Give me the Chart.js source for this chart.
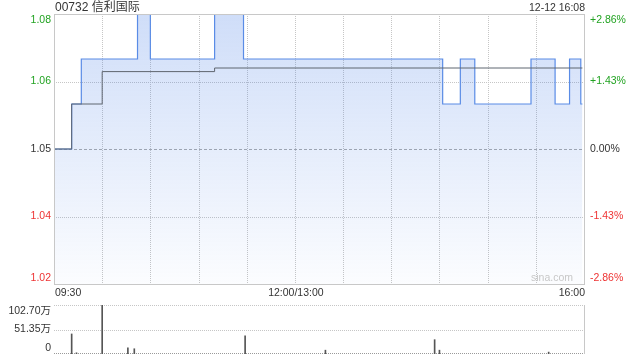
<!DOCTYPE html>
<html>
<head>
<meta charset="utf-8">
<script src="https://cdn.jsdelivr.net/npm/chart.js@4/dist/chart.umd.min.js"></script>
<style>
  html, body { margin: 0; padding: 0; background: #fff; }
  #wrap { position: relative; width: 640px; height: 360px; overflow: hidden; }
  #priceChart { position: absolute; left: 0; top: 0; }
  #volChart { position: absolute; left: 0; top: 296px; }
</style>
</head>
<body>
<div id="wrap">
  <canvas id="priceChart" width="640" height="300"></canvas>
  <canvas id="volChart" width="640" height="64"></canvas>
</div>
<script>
const stockTitle = '00732 信利国际';
const stampText = '12-12 16:08';
const prevClose = 1.05;

// minutes since 09:30 (lunch break removed), price holds from that minute on
const priceMinutes = [0, 11, 17, 52, 60, 100, 118, 242, 253, 262, 297, 312, 321, 328, 329];
const priceValues = [1.05, 1.06, 1.07, 1.08, 1.07, 1.08, 1.07, 1.06, 1.07, 1.06, 1.07, 1.06, 1.07, 1.06, 1.06];

const avgMinutes = [0, 11, 30, 100, 329];
const avgValues = [1.05, 1.06, 1.0672, 1.068, 1.068];

const volMinutes = [11, 14, 30, 46, 50, 119, 169, 237, 240, 308];
const volValues = [420000, 25000, 1027000, 130000, 110000, 380000, 80000, 300000, 80000, 40000];

const priceTicks = [1.02, 1.035, 1.05, 1.065, 1.08];
const priceTickLabels = ['1.02', '1.04', '1.05', '1.06', '1.08'];
const pctTickLabels = ['-2.86%', '-1.43%', '0.00%', '+1.43%', '+2.86%'];

const volTicks = [0, 513500, 1027000];
const volTickLabels = ['0', '51.35万', '102.70万'];

const timeTicks = [0, 150, 330];
const timeTickLabels = ['09:30', '12:00/13:00', '16:00'];
const gridMinutes = [30, 60, 90, 120, 150, 180, 210, 240, 270, 300];

const FONT = '"Liberation Sans", Arial, "Noto Sans CJK SC", sans-serif';
const UP = '#22a322';
const DOWN = '#ee3333';
const GRID = '#c6c6c6';

function hline(ctx, x1, x2, y) {
  ctx.beginPath();
  ctx.moveTo(x1, y);
  ctx.lineTo(x2, y);
  ctx.stroke();
}
function vline(ctx, x, y1, y2) {
  ctx.beginPath();
  ctx.moveTo(x, y1);
  ctx.lineTo(x, y2);
  ctx.stroke();
}

const priceDecor = {
  id: 'priceDecor',
  beforeDatasetsDraw(chart) {
    const { ctx, chartArea: a, scales: { x, y } } = chart;
    ctx.save();
    ctx.lineWidth = 1;
    ctx.strokeStyle = GRID;
    ctx.setLineDash([1, 1]);
    gridMinutes.forEach(m => {
      const px = Math.round(x.getPixelForValue(m)) + 0.5;
      vline(ctx, px, a.top, a.bottom);
    });
    priceTicks.forEach((v, i) => {
      if (i === 0 || i === priceTicks.length - 1 || v === prevClose) return;
      const py = Math.round(y.getPixelForValue(v)) + 0.5;
      hline(ctx, a.left, a.right, py);
    });
    // previous close line
    ctx.strokeStyle = '#aaaaaa';
    ctx.setLineDash([3, 2]);
    hline(ctx, a.left, a.right, Math.round(y.getPixelForValue(prevClose)) + 0.5);
    ctx.restore();
  },
  afterDraw(chart) {
    const { ctx, chartArea: a, scales: { x, y } } = chart;
    ctx.save();
    // frame
    ctx.strokeStyle = '#c8c8c8';
    ctx.lineWidth = 1;
    ctx.strokeRect(a.left + 0.5, a.top + 0.5, a.right - a.left, a.bottom - a.top);

    ctx.font = '10.5px ' + FONT;
    ctx.textBaseline = 'middle';
    priceTicks.forEach((v, i) => {
      let py = y.getPixelForValue(v);
      if (i === 0) py -= 6;
      if (i === priceTicks.length - 1) py += 6;
      ctx.fillStyle = v > prevClose ? UP : (v < prevClose ? DOWN : '#333');
      ctx.textAlign = 'right';
      ctx.fillText(priceTickLabels[i], a.left - 3, py);
      ctx.textAlign = 'left';
      ctx.fillText(pctTickLabels[i], a.right + 6, py);
    });

    ctx.fillStyle = '#333';
    timeTicks.forEach((m, i) => {
      const px = x.getPixelForValue(m);
      ctx.textAlign = i === 0 ? 'left' : (i === timeTicks.length - 1 ? 'right' : 'center');
      ctx.fillText(timeTickLabels[i], px + 1, a.bottom + 9.5);
    });

    ctx.textAlign = 'right';
    ctx.fillText(stampText, a.right + 1, 8);
    ctx.fillStyle = '#c8c8c8';
    ctx.fillText('sina.com', a.right - 11, a.bottom - 6);

    ctx.fillStyle = '#333';
    ctx.textAlign = 'left';
    ctx.font = '12px ' + FONT;
    ctx.fillText(stockTitle, a.left + 1, 8);
    ctx.restore();
  }
};

const volDecor = {
  id: 'volDecor',
  beforeDatasetsDraw(chart) {
    const { ctx, chartArea: a, scales: { y } } = chart;
    ctx.save();
    ctx.lineWidth = 1;
    ctx.setLineDash([1, 1]);
    volTicks.forEach((v, i) => {
      ctx.strokeStyle = i === 0 ? '#9a9a9a' : GRID;
      hline(ctx, a.left, a.right, Math.round(y.getPixelForValue(v)) - (i === 0 ? 0.5 : -0.5));
    });
    ctx.setLineDash([]);
    ctx.strokeStyle = '#c8c8c8';
    vline(ctx, a.right + 0.5, a.top, a.bottom);
    ctx.restore();
  },
  afterDraw(chart) {
    const { ctx, chartArea: a, scales: { y } } = chart;
    ctx.save();
    ctx.font = '10.5px ' + FONT;
    ctx.textBaseline = 'middle';
    ctx.textAlign = 'right';
    ctx.fillStyle = '#333';
    volTicks.forEach((v, i) => {
      let py = y.getPixelForValue(v);
      if (i === 0) py -= 6;
      if (i === volTicks.length - 1) py += 6;
      ctx.fillText(volTickLabels[i], a.left - 3, py);
    });
    ctx.restore();
  }
};

new Chart(document.getElementById('priceChart').getContext('2d'), {
  type: 'line',
  data: {
    datasets: [
      {
        label: 'avg',
        data: avgMinutes.map((m, i) => ({ x: m, y: avgValues[i] })),
        stepped: true,
        borderColor: '#5f6670',
        borderWidth: 1,
        pointRadius: 0,
        fill: false,
        order: 0
      },
      {
        label: 'price',
        data: priceMinutes.map((m, i) => ({ x: m, y: priceValues[i] })),
        stepped: true,
        borderColor: '#5a8ce6',
        borderWidth: 1.2,
        pointRadius: 0,
        fill: 'start',
        backgroundColor(c) {
          const a = c.chart.chartArea;
          if (!a) return 'rgba(70,125,230,0.15)';
          const g = c.chart.ctx.createLinearGradient(0, a.top, 0, a.bottom);
          g.addColorStop(0, 'rgba(70,125,230,0.26)');
          g.addColorStop(1, 'rgba(70,125,230,0.02)');
          return g;
        },
        order: 1
      }
    ]
  },
  options: {
    responsive: false,
    animation: false,
    layout: { padding: { left: 54, right: 56, top: 14, bottom: 16 } },
    plugins: { legend: { display: false }, tooltip: { enabled: false } },
    scales: {
      x: { type: 'linear', min: 0, max: 330, display: false },
      y: { min: priceTicks[0], max: priceTicks[priceTicks.length - 1], display: false }
    }
  },
  plugins: [priceDecor]
});

new Chart(document.getElementById('volChart').getContext('2d'), {
  type: 'bar',
  data: {
    datasets: [{
      label: 'vol',
      data: volMinutes.map((m, i) => ({ x: m, y: volValues[i] })),
      backgroundColor: '#555',
      borderWidth: 0,
      barThickness: 1
    }]
  },
  options: {
    responsive: false,
    animation: false,
    layout: { padding: { left: 54, right: 56, top: 9, bottom: 6 } },
    plugins: { legend: { display: false }, tooltip: { enabled: false } },
    scales: {
      x: { type: 'linear', min: 0, max: 330, offset: false, display: false },
      y: { min: 0, max: volTicks[volTicks.length - 1], display: false }
    }
  },
  plugins: [volDecor]
});
</script>
</body>
</html>
